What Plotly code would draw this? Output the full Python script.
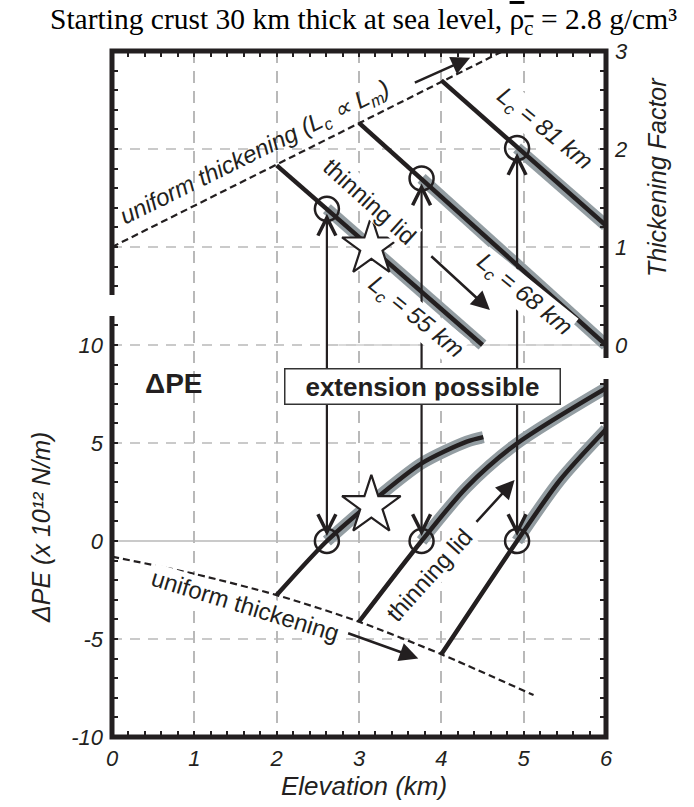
import plotly.graph_objects as go

# ---------------- data ----------------
# Upper panel: thickening factor vs. elevation (km)
uniform_tf_elev = [0.0, 4.75]
uniform_tf = [1.0, 3.0]

lid55_tf_elev = [2.0, 4.5]
lid55_tf = [1.833, 0.0]
lid68_tf_elev = [3.0, 6.0]
lid68_tf = [2.267, 0.0]
lid81_tf_elev = [4.0, 6.0]
lid81_tf = [2.7, 1.22]

# Lower panel: ΔPE (x 10^12 N/m) vs. elevation (km)
uniform_dpe_elev = [0.0, 1.0, 2.0, 3.0, 4.0, 5.12]
uniform_dpe = [-0.8, -1.68, -2.76, -4.12, -5.78, -7.86]

lid55_dpe_elev = [2.0, 2.61, 3.13, 3.76, 4.31, 4.51]
lid55_dpe = [-2.76, 0.0, 1.9, 3.96, 5.07, 5.3]
lid68_dpe_elev = [3.0, 3.76, 4.31, 4.91, 6.0]
lid68_dpe = [-4.12, 0.0, 2.75, 4.95, 7.8]
lid81_dpe_elev = [4.0, 4.92, 5.44, 6.0]
lid81_dpe = [-5.78, 0.0, 3.1, 5.7]

# Equilibrium (ΔPE = 0) elevations for each crustal thickness
eq_elev = [2.61, 3.76, 4.92]
eq_tf = [1.39, 1.70, 2.01]
eq_dpe = [0.0, 0.0, 0.0]

star_elev = 3.15
star_tf = 1.0
star_dpe = 1.8

x_ticks = [0, 1, 2, 3, 4, 5, 6]
dpe_ticks = [-10, -5, 0, 5, 10]
tf_ticks = [0, 1, 2, 3]

# ---------------- helpers ----------------
SANS = "Liberation Sans"
SERIF = "Liberation Serif"
INK = "#231f20"
HALO = "#939da2"
GRID = "#b9b9b9"

Y_MIN, Y_MAX = -10.0, 25.0   # shared vertical scale: ΔPE = 10 + 5 * TF
X_MIN, X_MAX = 0.0, 6.0


def tf_to_y(tf):
    if isinstance(tf, (list, tuple)):
        return [10.0 + 5.0 * t for t in tf]
    return 10.0 + 5.0 * tf


def py(yv):
    return (yv - Y_MIN) / (Y_MAX - Y_MIN)


fig = go.Figure()


def line(x, y, color=INK, width=4.5, dash=None, shape="linear"):
    fig.add_trace(go.Scatter(
        x=x, y=y, mode="lines", hoverinfo="skip", showlegend=False,
        line=dict(color=color, width=width, dash=dash, shape=shape, smoothing=0.8),
    ))


# gray halos on the branches beyond the equilibrium points
for (ex, et), (lx, lt) in zip(zip(eq_elev, eq_tf),
                              [(lid55_tf_elev, lid55_tf), (lid68_tf_elev, lid68_tf),
                               (lid81_tf_elev, lid81_tf)]):
    line([ex, lx[-1]], tf_to_y([et, lt[-1]]), color=HALO, width=12)

for lx, ly in [(lid55_dpe_elev, lid55_dpe), (lid68_dpe_elev, lid68_dpe),
               (lid81_dpe_elev, lid81_dpe)]:
    line(lx[1:], ly[1:], color=HALO, width=12, shape="spline")

# thinning-lid paths
line(lid55_tf_elev, tf_to_y(lid55_tf))
line(lid68_tf_elev, tf_to_y(lid68_tf))
line(lid81_tf_elev, tf_to_y(lid81_tf))
line(lid55_dpe_elev, lid55_dpe, shape="spline")
line(lid68_dpe_elev, lid68_dpe, shape="spline")
line(lid81_dpe_elev, lid81_dpe, shape="spline")

# uniform thickening paths
line(uniform_tf_elev, tf_to_y(uniform_tf), width=2.2, dash="7px,4px")
line(uniform_dpe_elev, uniform_dpe, width=2.2, dash="7px,4px", shape="spline")

# equilibrium circles and the example star
fig.add_trace(go.Scatter(
    x=eq_elev + eq_elev, y=tf_to_y(eq_tf) + eq_dpe, mode="markers",
    hoverinfo="skip", showlegend=False, cliponaxis=False,
    marker=dict(symbol="circle-open", size=24, color=INK, line=dict(width=2.5, color=INK)),
))
fig.add_trace(go.Scatter(
    x=[star_elev, star_elev], y=[tf_to_y(star_tf), star_dpe], mode="markers",
    hoverinfo="skip", showlegend=False,
    marker=dict(symbol="star", size=44, color="white", line=dict(width=2.2, color=INK)),
))

# invisible trace so the right-hand axis is drawn
fig.add_trace(go.Scatter(x=[0], y=[0], yaxis="y2", mode="markers",
                         marker=dict(opacity=0), hoverinfo="skip", showlegend=False))

# ---------------- horizontal grid lines & frame ----------------
shapes = []
for g in [-5, 5, 10, tf_to_y(1), tf_to_y(2)]:
    shapes.append(dict(type="line", xref="paper", yref="y", x0=0, x1=1, y0=g, y1=g,
                       line=dict(color=GRID, width=1.5, dash="10px,8px"), layer="below"))
shapes.append(dict(type="line", xref="paper", yref="y", x0=0, x1=1, y0=0, y1=0,
                   line=dict(color=GRID, width=1.5), layer="below"))
shapes.append(dict(type="line", xref="x", yref="y", x0=2.75, x1=6, y0=10, y1=10,
                   line=dict(color="#cfcfcf", width=1.5), layer="below"))

frame = dict(color=INK, width=5)
upper_left_end = 12.55
upper_right_end = 9.34
lower_left_top = 11.48
lower_right_top = 8.27
shapes.append(dict(type="path", xref="paper", yref="paper",
                   path=f"M 0,{py(upper_left_end)} L 0,1 L 1,1 L 1,{py(upper_right_end)}",
                   line=frame, layer="above"))
shapes.append(dict(type="path", xref="paper", yref="paper",
                   path=f"M 0,{py(lower_left_top)} L 0,0 L 1,0 L 1,{py(lower_right_top)}",
                   line=frame, layer="above"))

# ---------------- annotations ----------------
ann = []


def arrow(x0, y0, x1, y1, head=2, size=1.4, width=2.5, standoff=0):
    ann.append(dict(x=x1, y=y1, ax=x0, ay=y0, xref="x", yref="y", axref="x", ayref="y",
                    showarrow=True, arrowhead=head, arrowsize=size, arrowwidth=width,
                    arrowcolor=INK, standoff=standoff, text=""))


# linking arrows between the equilibrium points of both panels
for ex, et in zip(eq_elev, eq_tf):
    arrow(ex, 8.0, ex, tf_to_y(et), head=5, size=1.6, width=2.2, standoff=5)
    arrow(ex, 8.0, ex, 0.0, head=5, size=1.6, width=2.2, standoff=5)

# direction arrows
arrow(3.66, tf_to_y(2.67), 4.35, tf_to_y(2.93), head=2, size=1.5, width=2.5)
arrow(3.86, tf_to_y(0.92), 4.59, tf_to_y(0.357), head=2, size=1.5, width=2.5)
arrow(2.85, -4.68, 3.72, -5.99, head=2, size=1.5, width=2.5)
arrow(4.41, 0.9, 4.89, 3.11, head=2, size=1.5, width=2.5)


def label(x, y, text, angle=0, size=24, bg="white", style="italic", weight="normal",
          family=SANS, **kw):
    d = dict(x=x, y=y, xref="x", yref="y", text=text, showarrow=False, textangle=angle,
             font=dict(family=family, size=size, color=INK, style=style, weight=weight),
             bgcolor=bg, borderpad=0, xanchor="center", yanchor="middle")
    d.update(kw)
    ann.append(d)


label(1.74, 19.75, "uniform thickening (L<sub>c</sub> ∝ L<sub>m</sub>)", angle=-26.2,
      bg="rgba(0,0,0,0)")
label(3.13, 17.3, "thinning lid", angle=42, style="normal")
label(5.25, 21.0, "L<sub>c</sub> = 81 km", angle=39)
label(5.01, 12.55, "L<sub>c</sub> = 68 km", angle=39)
label(3.68, 11.38, "L<sub>c</sub> = 55 km", angle=39)
label(1.625, -3.27, "uniform thickening", angle=17, style="normal")
label(3.86, -1.73, "thinning lid", angle=-48, style="normal")
label(0.75, 8.06, "ΔPE", size=28, style="normal", weight="bold", bg="rgba(0,0,0,0)")
label(3.77, 7.86, "extension possible", size=26, style="normal", weight="bold",
      bordercolor="#333333", borderwidth=1.5, borderpad=3, width=268, height=28)

# axis titles and heading (paper coordinates)
ann.append(dict(x=0.51, y=-0.0714, xref="paper", yref="paper", text="Elevation (km)",
                showarrow=False, xanchor="center", yanchor="middle",
                font=dict(family=SANS, size=26, color=INK, style="italic")))
ann.append(dict(x=-0.144, y=0.306, xref="paper", yref="paper",
                text="ΔPE (x 10¹² N/m)", textangle=-90,
                showarrow=False, xanchor="center", yanchor="middle",
                font=dict(family=SANS, size=25, color=INK, style="italic")))
ann.append(dict(x=1.103, y=0.816, xref="paper", yref="paper", text="Thickening Factor",
                textangle=-90, showarrow=False, xanchor="center", yanchor="middle",
                font=dict(family=SANS, size=25, color=INK, style="italic")))
ann.append(dict(x=0.51, y=1.0437, xref="paper", yref="paper",
                text='Starting crust 30 km thick at sea level, '
                     '<span style="text-decoration:overline">ρ<sub>c</sub></span>'
                     ' = 2.8 g/cm³',
                showarrow=False, xanchor="center", yanchor="middle",
                font=dict(family=SERIF, size=29.5, color="black")))

# ---------------- axes ----------------
left_ticks = list(range(-10, 12)) + list(range(13, 26))
right_ticks = list(range(-10, 9)) + list(range(10, 26))
tickfont = dict(family=SANS, size=22, color=INK, style="italic")

fig.update_layout(
    width=694, height=807,
    margin=dict(l=112, r=88, t=51, b=70),
    paper_bgcolor="white", plot_bgcolor="white",
    shapes=shapes, annotations=ann,
    xaxis=dict(
        range=[X_MIN, X_MAX], tickvals=x_ticks, ticks="inside", ticklen=6, tickwidth=1.5,
        tickcolor=INK, mirror="ticks", showline=False, zeroline=False,
        showgrid=True, gridcolor=GRID, gridwidth=1.5, griddash="12px,8px",
        minor=dict(dtick=0.2, tick0=0, ticks="inside", ticklen=6, tickwidth=1.5,
                   tickcolor=INK, showgrid=False),
        tickfont=tickfont, ticklabelstandoff=6,
    ),
    yaxis=dict(
        range=[Y_MIN, Y_MAX], tickvals=left_ticks,
        ticktext=[str(v) if v in dpe_ticks else "" for v in left_ticks],
        ticks="inside", ticklen=6, tickwidth=1.5, tickcolor=INK,
        showgrid=False, zeroline=False, showline=False,
        tickfont=tickfont, ticklabelstandoff=8,
    ),
    yaxis2=dict(
        range=[Y_MIN, Y_MAX], overlaying="y", side="right", tickvals=right_ticks,
        ticktext=[str(int((v - 10) / 5)) if v >= 10 and (v - 10) % 5 == 0 else ""
                  for v in right_ticks],
        ticks="inside", ticklen=6, tickwidth=1.5, tickcolor=INK,
        showgrid=False, zeroline=False, showline=False,
        tickfont=tickfont, ticklabelstandoff=8,
    ),
)

fig.write_html("out.html")
